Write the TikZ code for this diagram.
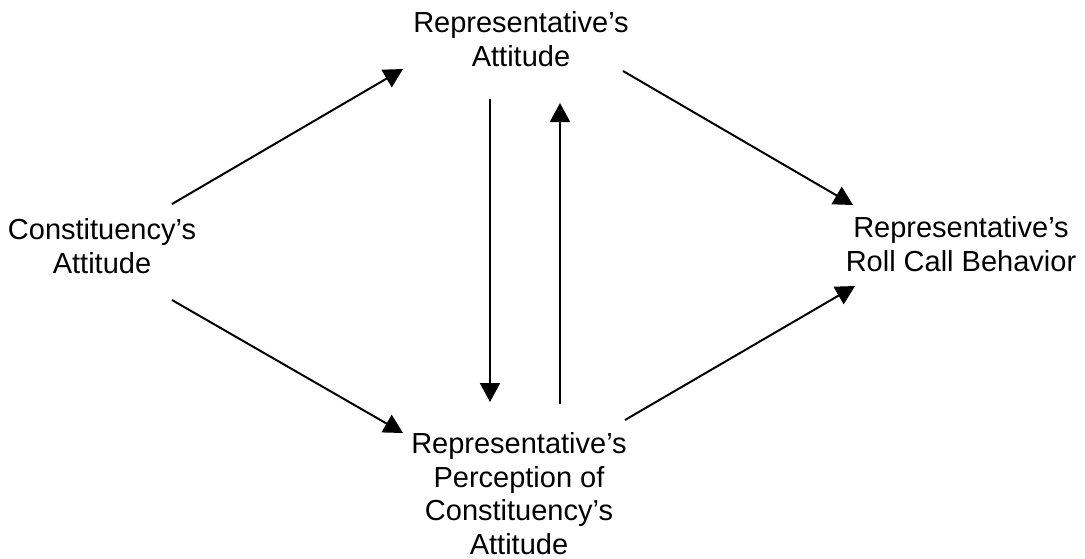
\documentclass[tikz,border=0pt]{standalone}
\usepackage{fontspec}
\setmainfont{Liberation Sans}
\usetikzlibrary{arrows.meta,calc}
\tikzset{
  lbl/.style={align=center, inner sep=0pt, anchor=base, font=\fontsize{29}{33.5}\selectfont},
  conn/.style={line width=2pt, -{Triangle[length=19pt,width=20pt]}}
}
\begin{document}
\begin{tikzpicture}[x=1pt,y=-1pt]
\useasboundingbox (0,0) rectangle (1085,558);
\node[lbl] (cons) at (102,273) {Constituency’s\\Attitude};
\node[lbl] (rep) at (521,66) {Representative’s\\Attitude};
\node[lbl] (perc) at (519,554) {Representative’s\\Perception of\\Constituency’s\\Attitude};
\node[lbl] (roll) at (961,271) {Representative’s\\Roll Call Behavior};
\draw[conn] ([shift={(70,-69)}]cons.base) -- ([shift={(-118,3)}]rep.base);
\draw[conn] ([shift={(70,27)}]cons.base) -- ([shift={(-116,-121)}]perc.base);
\draw[conn] ([shift={(-31,33)}]rep.base) -- ([shift={(-29,-152)}]perc.base);
\draw[conn] ([shift={(41,-150)}]perc.base) -- ([shift={(39,37)}]rep.base);
\draw[conn] ([shift={(102,5)}]rep.base) -- ([shift={(-108,-66)}]roll.base);
\draw[conn] ([shift={(106,-134)}]perc.base) -- ([shift={(-106,15)}]roll.base);
\end{tikzpicture}
\end{document}
